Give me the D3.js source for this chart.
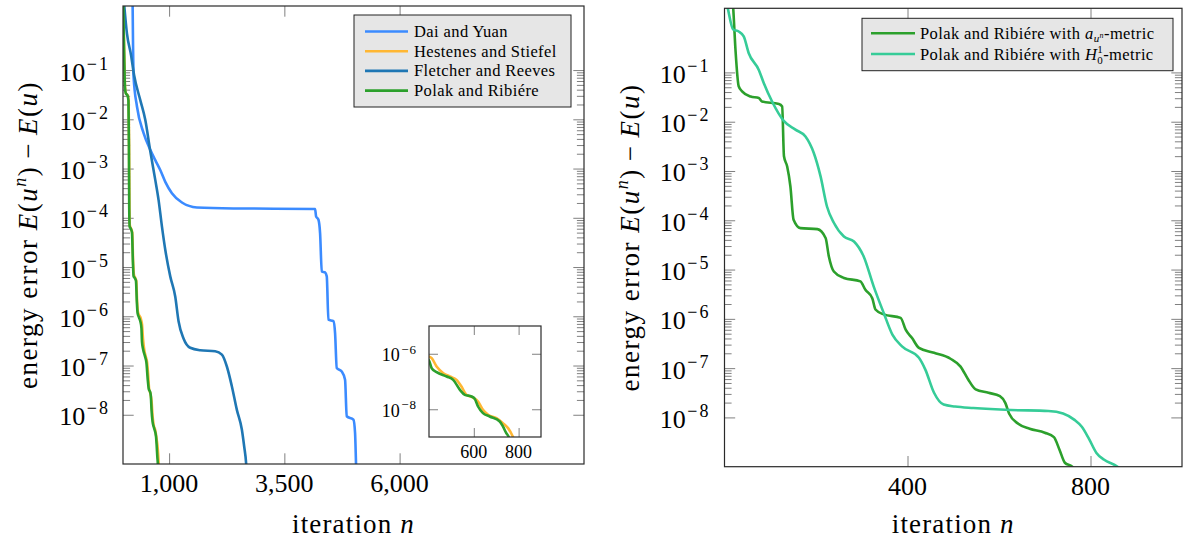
<!DOCTYPE html>
<html><head><meta charset="utf-8">
<script src="https://cdn.jsdelivr.net/npm/d3@7"></script>
<style>
body{margin:0;background:#fff}
svg{display:block}
svg text{font-family:'Liberation Serif','DejaVu Serif',serif;fill:#000}
</style></head>
<body><svg id="c" width="1185" height="538" font-family="Liberation Serif, DejaVu Serif, serif"></svg>
<script>
// ---------------- DATA (iteration n, log10 of energy error) ----------------
const leftNames = ["Dai and Yuan", "Hestenes and Stiefel", "Fletcher and Reeves", "Polak and Ribiére"];
const leftColors = ["#3b8bff", "#ffb733", "#1f77b4", "#2ca02c"];
const daiYuan = [[203,1.0],[209,0.3],[218,-0.5],[230,-1.14],[303,-1.74],[447,-2.28],[592,-2.62],[700,-2.83],[808,-3.03],[917,-3.27],[1061,-3.50],[1278,-3.69],[1603,-3.79],[2397,-3.81],[4167,-3.82],[4188,-3.97],[4240,-4.04],[4275,-4.31],[4312,-5.09],[4383,-5.11],[4420,-5.19],[4456,-6.07],[4564,-6.10],[4600,-6.34],[4637,-7.05],[4745,-7.12],[4817,-7.29],[4853,-8.03],[4998,-8.10],[5034,-8.37],[5055,-9.0],[5065,-9.3]];
const hestenesStiefel = [[0,0.8],[16,-0.2],[32,-0.9],[45,-1.35],[63,-1.47],[104,-1.52],[122,-1.62],[132,-2.5],[139,-3.8],[148,-4.15],[175,-4.22],[200,-4.3],[220,-4.9],[236,-5.15],[265,-5.22],[288,-5.28],[306,-5.7],[322,-5.9],[350,-5.98],[380,-6.03],[400,-6.1],[412,-6.16],[434,-6.46],[464,-6.70],[493,-6.82],[523,-6.94],[545,-7.18],[567,-7.48],[597,-7.58],[619,-7.72],[641,-8.02],[664,-8.20],[701,-8.32],[730,-8.50],[753,-8.68],[775,-9.0],[785,-9.2]];
const fletcherReeves = [[10,0.5],[86,-0.26],[175,-0.7],[240,-1.1],[375,-1.61],[483,-2.01],[592,-2.65],[700,-3.23],[772,-3.64],[845,-4.18],[917,-4.65],[1025,-5.19],[1133,-5.6],[1205,-6.1],[1313,-6.45],[1458,-6.64],[1675,-6.69],[2000,-6.71],[2145,-6.78],[2253,-7.02],[2361,-7.42],[2470,-7.9],[2578,-8.3],[2628,-8.64],[2672,-9.0],[2690,-9.3]];
const polakRibiere = [[0,0.8],[15,-0.2],[30,-0.9],[42,-1.35],[60,-1.47],[100,-1.52],[118,-1.62],[128,-2.5],[135,-3.8],[144,-4.18],[170,-4.22],[195,-4.3],[215,-4.9],[230,-5.19],[260,-5.23],[281,-5.28],[300,-5.7],[317,-5.94],[345,-6.02],[375,-6.1],[400,-6.24],[412,-6.52],[434,-6.66],[479,-6.82],[508,-6.94],[538,-7.30],[560,-7.48],[590,-7.54],[604,-7.62],[619,-7.90],[641,-8.14],[671,-8.26],[716,-8.44],[730,-8.62],[745,-8.86],[756,-9.0],[765,-9.2]];

const rightColors = ["#2ca02c", "#36cc98"];
const prAun = [[10,1.0],[19,0.31],[24,-0.54],[31,-1.28],[39,-1.39],[57,-1.49],[75,-1.52],[82,-1.59],[119,-1.64],[126,-1.69],[130,-2.70],[137,-2.91],[144,-3.31],[151,-3.99],[166,-4.16],[203,-4.18],[221,-4.36],[228,-4.73],[239,-5.04],[261,-5.17],[297,-5.24],[308,-5.41],[323,-5.58],[330,-5.81],[348,-5.91],[385,-5.98],[396,-6.22],[410,-6.39],[425,-6.59],[458,-6.69],[494,-6.81],[516,-6.97],[532,-7.22],[549,-7.43],[577,-7.50],[602,-7.57],[614,-7.71],[622,-7.92],[642,-8.13],[667,-8.23],[700,-8.31],[720,-8.40],[732,-8.65],[744,-8.92],[760,-9.0],[770,-9.2]];
const prH01 = [[0,0.6],[7,0.31],[19,-0.13],[31,-0.17],[42,-0.27],[53,-0.61],[75,-0.95],[86,-1.22],[104,-1.59],[130,-1.99],[155,-2.16],[177,-2.30],[195,-2.63],[210,-3.11],[224,-3.72],[239,-4.05],[261,-4.33],[283,-4.43],[304,-4.73],[326,-5.34],[348,-5.88],[367,-6.32],[388,-6.56],[425,-6.79],[439,-7.03],[458,-7.50],[479,-7.74],[504,-7.78],[544,-7.81],[626,-7.85],[708,-7.87],[740,-7.92],[765,-8.05],[781,-8.19],[797,-8.44],[813,-8.72],[830,-8.86],[859,-9.0],[870,-9.1]];

const leftXTicks = [1000, 3500, 6000];
const rightXTicks = [400, 800];
const insetXTicks = [600, 800];
const yTickExps = [-1, -2, -3, -4, -5, -6, -7, -8];
const insetYTickExps = [-6, -8];

// ---------------- LAYOUT ----------------
const svg = d3.select("#c");
const FS = 26, TFS = 27;
const MAJ = 10.7, MIN = 7.1;
const minorVals = [];
for (let k = -8; k <= -2; k++) for (let m = 2; m <= 9; m++) minorVals.push(m * Math.pow(10, k));

function fit(sel, target) {
  const node = sel.node();
  const w = node.getComputedTextLength();
  const n = node.textContent.length;
  sel.attr("letter-spacing", ((target - w) / n).toFixed(3));
}

function ticks(g, x, y, box, xt, yt, minor, maj) {
  const style = s => { s.select(".domain").remove(); s.selectAll("line").attr("stroke", "#808080").attr("stroke-width", 1); };
  g.append("g").attr("transform", `translate(0,${box.y0})`).call(d3.axisTop(x).tickValues(xt).tickSize(-maj).tickFormat("")).call(style);
  g.append("g").attr("transform", `translate(0,${box.y1})`).call(d3.axisBottom(x).tickValues(xt).tickSize(-maj).tickFormat("")).call(style);
  g.append("g").attr("transform", `translate(${box.x0},0)`).call(d3.axisLeft(y).tickValues(yt).tickSize(-maj).tickFormat("")).call(style);
  g.append("g").attr("transform", `translate(${box.x1},0)`).call(d3.axisRight(y).tickValues(yt).tickSize(-maj).tickFormat("")).call(style);
  if (minor) {
    g.append("g").attr("transform", `translate(${box.x0},0)`).call(d3.axisLeft(y).tickValues(minor).tickSize(-MIN).tickFormat("")).call(style);
    g.append("g").attr("transform", `translate(${box.x1},0)`).call(d3.axisRight(y).tickValues(minor).tickSize(-MIN).tickFormat("")).call(style);
  }
}

function yLabels(g, y, box, exps, fs, gap, base, supFs, supDy, supLs) {
  exps.forEach(e => {
    const t = g.append("text").attr("x", box.x0 - gap).attr("y", y(Math.pow(10, e)) + base)
      .attr("text-anchor", "end").attr("font-size", fs);
    t.append("tspan").text("10");
    t.append("tspan").attr("font-size", supFs).attr("dx", 1.5).attr("dy", supDy).attr("letter-spacing", supLs).text("\u2212" + (-e));
  });
}

function xLabels(g, x, box, vals, fs, off, fmt) {
  vals.forEach(v => {
    g.append("text").attr("x", x(v)).attr("y", box.y1 + off).attr("text-anchor", "middle")
      .attr("font-size", fs).text(fmt(v));
  });
}

function yTitle(g, box) {
  const cx = box.x0 - 86, cy = (box.y0 + box.y1) / 2;
  const t = g.append("text").attr("transform", `translate(${cx},${cy}) rotate(-90)`)
    .attr("text-anchor", "middle").attr("font-size", TFS);
  t.append("tspan").text("energy error ");
  t.append("tspan").attr("font-style", "italic").text("E");
  t.append("tspan").text("(");
  t.append("tspan").attr("font-style", "italic").text("u");
  t.append("tspan").attr("font-style", "italic").attr("font-size", 18).attr("dy", -11).text("n");
  t.append("tspan").attr("dy", 11).text(")\u2009\u2212\u2009");
  t.append("tspan").attr("font-style", "italic").text("E");
  t.append("tspan").text("(");
  t.append("tspan").attr("font-style", "italic").text("u");
  t.append("tspan").text(")");
  fit(t, 308);
}

function xTitle(g, box, off) {
  const t = g.append("text").attr("x", (box.x0 + box.x1) / 2).attr("y", box.y1 + off)
    .attr("text-anchor", "middle").attr("font-size", TFS);
  t.append("tspan").text("iteration ");
  t.append("tspan").attr("font-style", "italic").text("n");
  fit(t, 123);
}

function clip(id, box) {
  svg.append("clipPath").attr("id", id).append("rect")
    .attr("x", box.x0).attr("y", box.y0).attr("width", box.x1 - box.x0).attr("height", box.y1 - box.y0);
}

function frame(g, box) {
  g.append("rect").attr("x", box.x0).attr("y", box.y0).attr("width", box.x1 - box.x0).attr("height", box.y1 - box.y0)
    .attr("fill", "none").attr("stroke", "#2a2a2a").attr("stroke-width", 1.2);
}

function lineGen(x, y) {
  return d3.line().x(d => x(d[0])).y(d => y(Math.pow(10, d[1]))).curve(d3.curveMonotoneX);
}

// ---------------- LEFT PANEL ----------------
const L = {x0: 123, x1: 584, y0: 6, y1: 464};
const xL = d3.scaleLinear().domain([0, 10000]).range([L.x0, L.x1]);
const yL = d3.scaleLog().domain([1e-9, 2]).range([L.y1, L.y0]);
clip("clipL", L);
const gL = svg.append("g");
ticks(gL, xL, yL, L, leftXTicks, yTickExps.map(e => Math.pow(10, e)), minorVals, MAJ);
const lnL = lineGen(xL, yL);
const leftSeries = [daiYuan, hestenesStiefel, fletcherReeves, polakRibiere];
gL.append("g").attr("clip-path", "url(#clipL)").selectAll("path").data(leftSeries).join("path")
  .attr("d", lnL).attr("fill", "none").attr("stroke", (d, i) => leftColors[i]).attr("stroke-width", 2.6)
  .attr("stroke-linejoin", "round");
frame(gL, L);
yLabels(gL, yL, L, yTickExps, FS, 13, 10.5, 18, -11, 2);
xLabels(gL, xL, L, leftXTicks, FS, 27.7, d3.format(","));
yTitle(gL, L);
xTitle(gL, L, 69);

// legend left
const lgL = svg.append("g");
lgL.append("rect").attr("x", 354).attr("y", 15).attr("width", 217).attr("height", 92)
  .attr("fill", "#e6e6e6").attr("stroke", "#222").attr("stroke-width", 1);
leftNames.forEach((nm, i) => {
  const cy = 31.5 + i * 19.7;
  lgL.append("line").attr("x1", 365).attr("x2", 408).attr("y1", cy).attr("y2", cy)
    .attr("stroke", leftColors[i]).attr("stroke-width", 2.6);
  lgL.append("text").attr("x", 414).attr("y", cy + 5.5).attr("font-size", 16.5).attr("letter-spacing", 0.4).text(nm);
});

// inset
const I = {x0: 429, x1: 541, y0: 326, y1: 437};
const xI = d3.scaleLinear().domain([400, 900]).range([I.x0, I.x1]);
const yI = d3.scaleLog().domain([1e-9, 1e-5]).range([I.y1, I.y0]);
clip("clipI", I);
const gI = svg.append("g");
gI.append("rect").attr("x", I.x0).attr("y", I.y0).attr("width", I.x1 - I.x0).attr("height", I.y1 - I.y0).attr("fill", "#fff");
ticks(gI, xI, yI, I, insetXTicks, insetYTickExps.map(e => Math.pow(10, e)), null, 9);
const lnI = lineGen(xI, yI);
gI.append("g").attr("clip-path", "url(#clipI)").selectAll("path").data([hestenesStiefel, polakRibiere]).join("path")
  .attr("d", lnI).attr("fill", "none").attr("stroke", (d, i) => [leftColors[1], leftColors[3]][i]).attr("stroke-width", 2.6);
frame(gI, I);
yLabels(gI, yI, I, insetYTickExps, 18, 12, 7.7, 13, -7.5, 1);
xLabels(gI, xI, I, insetXTicks, 18, 21, d3.format("d"));

// ---------------- RIGHT PANEL ----------------
const R = {x0: 724.5, x1: 1182, y0: 8.3, y1: 466.7};
const xR = d3.scaleLinear().domain([0, 1000]).range([R.x0, R.x1]);
const yR = d3.scaleLog().domain([1e-9, 2]).range([R.y1, R.y0]);
clip("clipR", R);
const gR = svg.append("g");
ticks(gR, xR, yR, R, rightXTicks, yTickExps.map(e => Math.pow(10, e)), minorVals, MAJ);
const lnR = lineGen(xR, yR);
gR.append("g").attr("clip-path", "url(#clipR)").selectAll("path").data([prAun, prH01]).join("path")
  .attr("d", lnR).attr("fill", "none").attr("stroke", (d, i) => rightColors[i]).attr("stroke-width", 2.6)
  .attr("stroke-linejoin", "round");
frame(gR, R);
yLabels(gR, yR, R, yTickExps, FS, 14, 10.5, 18, -11, 2);
xLabels(gR, xR, R, rightXTicks, FS, 28.5, d3.format("d"));
yTitle(gR, R);
xTitle(gR, R, 66);

// legend right
const lgR = svg.append("g");
lgR.append("rect").attr("x", 862).attr("y", 18.3).attr("width", 311).attr("height", 52.4)
  .attr("fill", "#e6e6e6").attr("stroke", "#222").attr("stroke-width", 1);
[33.3, 54].forEach((cy, i) => {
  lgR.append("line").attr("x1", 871).attr("x2", 915).attr("y1", cy).attr("y2", cy)
    .attr("stroke", rightColors[i]).attr("stroke-width", 2.6);
});
{
  const t = lgR.append("text").attr("x", 920).attr("y", 33.3 + 5.5).attr("font-size", 16.5).attr("letter-spacing", 0.4);
  t.append("tspan").text("Polak and Ribiére with ");
  t.append("tspan").attr("font-style", "italic").text("a");
  t.append("tspan").attr("font-style", "italic").attr("font-size", 11).attr("dy", 3).text("u");
  t.append("tspan").attr("font-style", "italic").attr("font-size", 8).attr("dy", -4).text("n");
  t.append("tspan").attr("dy", 1).text("-metric");
}
{
  const t = lgR.append("text").attr("x", 920).attr("y", 54 + 5.5).attr("font-size", 16.5).attr("letter-spacing", 0.4);
  t.append("tspan").text("Polak and Ribiére with ");
  t.append("tspan").attr("font-style", "italic").text("H");
  t.append("tspan").attr("font-size", 11).attr("dy", 4).text("0");
  t.append("tspan").attr("font-size", 11).attr("dx", -6).attr("dy", -11).text("1");
  t.append("tspan").attr("dy", 7).text("-metric");
}
</script></body></html>
